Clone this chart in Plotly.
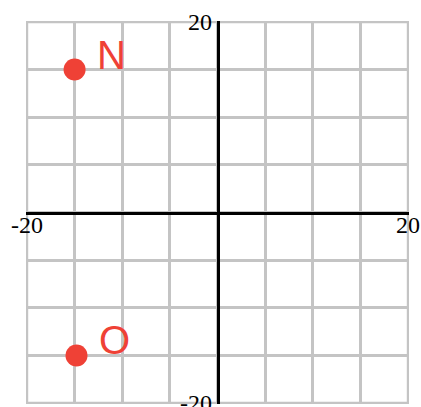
import plotly.graph_objects as go

# data
point_labels = ["N", "O"]
point_x = [-15, -14.8]
point_y = [15, -15]
tick_vals = [-20, -15, -10, -5, 0, 5, 10, 15, 20]
x_tick_text = ["-20", "", "", "", "", "", "", "", "20"]
y_tick_text = ["-20", "", "", "", "", "", "", "", "20"]

RED = "#EF4136"
GRID = "#C4C4C4"

fig = go.Figure()
fig.add_trace(go.Scatter(
    x=point_x, y=point_y, mode="markers",
    marker=dict(size=22, color=RED),
    hoverinfo="skip", showlegend=False,
))

for lab, px, py in zip(point_labels, point_x, point_y):
    fig.add_annotation(
        x=px, y=py, xref="x", yref="y", text=lab, showarrow=False,
        xanchor="left", yanchor="bottom", xshift=20, yshift=-9,
        font=dict(family="Liberation Sans, Arial", size=40, color=RED),
    )

# outer grid border (edge grid lines)
fig.add_shape(
    type="rect", xref="x", yref="y",
    x0=min(tick_vals), x1=max(tick_vals), y0=min(tick_vals), y1=max(tick_vals),
    line=dict(color=GRID, width=2.5), layer="below",
)

axis_common = dict(
    range=[-20.1, 20.1], tickvals=tick_vals,
    showgrid=True, gridcolor=GRID, gridwidth=2.5,
    zeroline=False, showline=True, linecolor="black", linewidth=2.5,
    ticks="", anchor="free", position=0.5,
    tickfont=dict(family="Liberation Serif, Times New Roman, serif", size=24, color="black"),
    ticklabeloverflow="allow", automargin=False,
    fixedrange=True,
)
fig.update_xaxes(**axis_common, ticktext=x_tick_text, ticklabelstandoff=-10)
fig.update_yaxes(**axis_common, ticktext=y_tick_text)

fig.update_layout(
    width=421, height=407,
    margin=dict(l=26, r=12, t=21, b=3, autoexpand=False),
    paper_bgcolor="white", plot_bgcolor="white",
)

fig.write_html("out.html", config={"displayModeBar": False},
               post_script="document.body.style.margin='0';")
